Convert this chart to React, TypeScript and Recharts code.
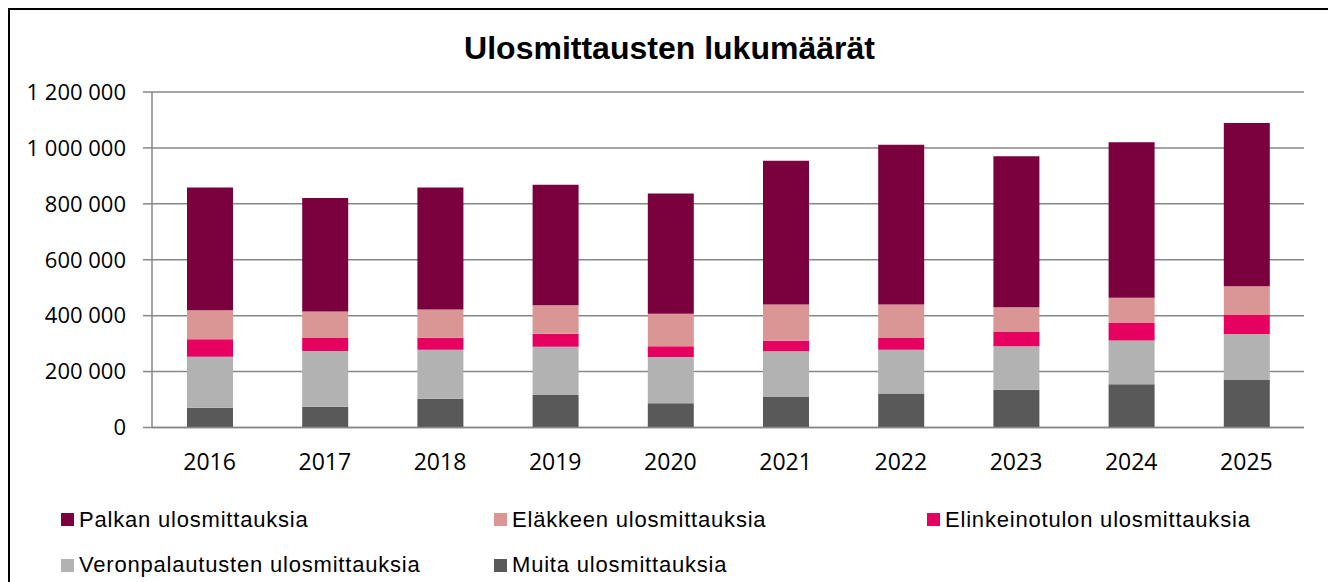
import React from 'react';
import { BarChart, Bar, XAxis, YAxis, CartesianGrid, Legend } from 'recharts';

const years = ['2016', '2017', '2018', '2019', '2020', '2021', '2022', '2023', '2024', '2025'];
const muita = [71000, 74000, 103000, 116000, 87000, 109000, 122000, 135000, 155000, 170000];
const veronpalautus = [182000, 200000, 175000, 173000, 165000, 164000, 156000, 156000, 156000, 164000];
const elinkeino = [63000, 46000, 43000, 46000, 39000, 37000, 42000, 51000, 63000, 68000];
const elake = [103000, 95000, 101000, 102000, 116000, 130000, 120000, 88000, 90000, 103000];
const palkka = [439000, 406000, 436000, 431000, 430000, 514000, 571000, 540000, 556000, 584000];
const yTicks = [0, 200000, 400000, 600000, 800000, 1000000, 1200000];
const boundaryTicks = [0, 1, 2, 3, 4, 5, 6, 7, 8, 9, 10];

const title = 'Ulosmittausten lukumäärät';

// stacking order bottom -> top
const series = [
  { key: 'muita', name: 'Muita ulosmittauksia', color: '#595959' },
  { key: 'veron', name: 'Veronpalautusten ulosmittauksia', color: '#B2B2B2' },
  { key: 'elink', name: 'Elinkeinotulon ulosmittauksia', color: '#E6005F' },
  { key: 'elake', name: 'Eläkkeen ulosmittauksia', color: '#D99694' },
  { key: 'palkka', name: 'Palkan ulosmittauksia', color: '#7A003E' },
];
// legend order
const legendOrder = ['palkka', 'elake', 'elink', 'veron', 'muita'];

const data = years.map((y, i) => ({
  year: y,
  muita: muita[i],
  veron: veronpalautus[i],
  elink: elinkeino[i],
  elake: elake[i],
  palkka: palkka[i],
}));

const fmt = (v: number) => String(v).replace(/\B(?=(\d{3})+(?!\d))/g, ' ');

const W = 1319;
const H = 580;
const GRID = '#878787';

const LegendContent = () => (
  <div
    style={{
      display: 'grid',
      gridTemplateColumns: '433px 433px 433px',
      gridAutoRows: '45.5px',
      paddingLeft: 51,
      fontFamily: '"Liberation Sans", Arial, sans-serif',
      fontSize: 22,
      letterSpacing: 0.8,
      color: '#000',
    }}
  >
    {legendOrder.map((k) => {
      const s = series.find((x) => x.key === k)!;
      return (
        <div key={k} style={{ display: 'flex', alignItems: 'center', whiteSpace: 'nowrap' }}>
          <span style={{ display: 'inline-block', width: 13, height: 13, background: s.color, marginRight: 5 }} />
          <span>{s.name}</span>
        </div>
      );
    })}
  </div>
);

export default function App() {
  return (
    <div
      style={{
        position: 'relative',
        width: W,
        height: H,
        border: '2px solid #000',
        background: '#fff',
      }}
    >
      <div
        style={{
          position: 'absolute',
          top: 22,
          left: 0,
          width: W,
          textAlign: 'center',
          fontFamily: '"Liberation Sans", Arial, sans-serif',
          fontWeight: 'bold',
          fontSize: 32,
          lineHeight: '32px',
          color: '#000',
          zIndex: 2,
        }}
      >
        {title}
      </div>
      <BarChart
        width={W}
        height={H}
        data={data}
        margin={{ top: 82, right: 25, bottom: 121.5, left: 0 }}
      >
        <CartesianGrid vertical={false} stroke={GRID} strokeWidth={1.5} xAxisId="z" />
        <XAxis
          xAxisId="z"
          dataKey="year"
          height={40}
          tickLine={false}
          tickSize={6}
          tickMargin={19}
          axisLine={false}
          tick={{ fill: '#000', fontSize: 23, fontFamily: '"Open Sans", sans-serif' }}
        />
        <XAxis
          xAxisId="a"
          type="number"
          domain={[0, 10]}
          ticks={boundaryTicks}
          height={1}
          tick={false}
          tickSize={8}
          tickLine={{ stroke: GRID, strokeWidth: 1.5 }}
          axisLine={{ stroke: GRID, strokeWidth: 1.5 }}
          allowDataOverflow
        />
        <YAxis
          width={142}
          domain={[0, 1200000]}
          ticks={yTicks}
          tickFormatter={fmt}
          tickSize={9}
          tickMargin={17}
          tickLine={{ stroke: GRID, strokeWidth: 1.5 }}
          axisLine={{ stroke: GRID, strokeWidth: 1.5 }}
          tick={{ fill: '#000', fontSize: 22, fontFamily: '"Open Sans", sans-serif' }}
          interval={0}
        />
        <Legend
          layout="horizontal"
          verticalAlign="middle"
          align="center"
          wrapperStyle={{ top: 487, left: 0, width: W }}
          content={() => <LegendContent />}
        />
        {series.map((s) => (
          <Bar
            key={s.key}
            xAxisId="z"
            dataKey={s.key}
            name={s.name}
            stackId="a"
            fill={s.color}
            barSize={46}
            isAnimationActive={false}
          />
        ))}
      </BarChart>
    </div>
  );
}
